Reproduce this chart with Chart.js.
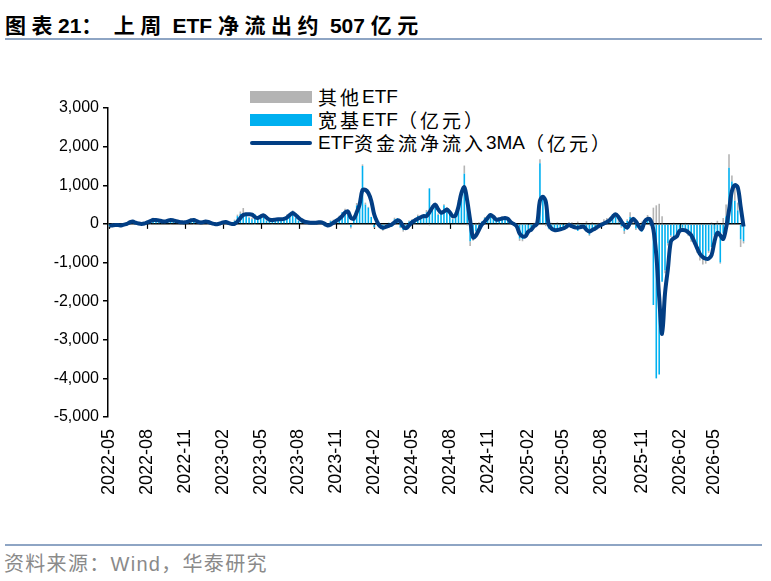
<!DOCTYPE html>
<html lang="zh-CN">
<head>
<meta charset="UTF-8">
<title>上周 ETF 净流出约 507 亿元</title>
<script src="https://cdn.jsdelivr.net/npm/chart.js"></script>
<style>
  body {
    margin: 0;
    width: 771px;
    height: 581px;
    position: relative;
    overflow: hidden;
    background: #fff;
    font-family: "Liberation Sans", "Noto Sans CJK SC", sans-serif;
  }
  .title {
    position: absolute; left: 5px; top: 9px;
    font-size: 21px; font-weight: bold; color: #000; white-space: pre;
  }
  .title .cj { letter-spacing: 5.5px; }
  .rule { position: absolute; left: 5px; width: 757px; background: #8EA5C4; }
  .legend { position: absolute; left: 250px; top: 85px; font-size: 19px; color: #000; }
  .legend .cj { letter-spacing: 3px; }
  .legend div { height: 23px; display: flex; align-items: center; white-space: pre; }
  .swatch { width: 62px; margin-right: 6px; }
  .src { position: absolute; left: 4px; top: 548px; font-size: 20px; color: #8a8a8a; letter-spacing: 1.3px; }
  #wrap { position: absolute; left: 0; top: 50px; }
</style>
</head>
<body>
<div class="title"><span class="cj">图表</span>21<span class="cj">：</span> <span class="cj">上周</span> ETF <span class="cj">净流出约</span> 507 <span class="cj">亿元</span></div>
<div class="rule" style="top:38px;height:2px"></div>

<div class="legend">
  <div><span class="swatch" style="height:12px;background:#B4B4B4"></span><span class="cj">其他</span>ETF</div>
  <div><span class="swatch" style="height:12px;background:#00B0F0"></span><span class="cj">宽基</span>ETF<span class="cj">（亿元）</span></div>
  <div><span class="swatch" style="height:4px;background:#023E84;border-radius:2px"></span>ETF<span class="cj">资金流净流入</span>3MA<span class="cj">（亿元）</span></div>
</div>

<div id="wrap"><canvas id="etfChart" width="771" height="480"></canvas></div>

<div class="rule" style="top:544px;height:1.5px"></div>
<div class="src">资料来源：Wind，华泰研究</div>

<script>
// 周度数据，从 2022-05-06 开始（亿元）
const tickLabels = ['2022-05', '2022-08', '2022-11', '2023-02', '2023-05', '2023-08', '2023-11',
  '2024-02', '2024-05', '2024-08', '2024-11', '2025-02', '2025-05', '2025-08', '2025-11',
  '2026-02', '2026-05'];

// 宽基ETF
const broadEtf = [
  -60, -20, -40, 10, -50, -30, 20, 60, 70, -10, 20, -20, 30,
  60, 90, 120, 60, 110, 30, 70, 90, 120, 60, 50, 30, 40,
  50, 80, 120, 90, 30, 20, 70, 60, 30, -10, -20, 20, 30,
  60, 20, -10, -30, 80, 200, 260, 230, 210, 160, 120, 250, 150,
  220, 200, 80, 90, 130, 100, 140, 110, 130, 200, 260, 320, 150,
  80, 40, 60, 20, 30, 50, -20, 60, 30, -60, -30, 70, 80,
  120, 180, 300, 350, 280, -80, 200, 480, 620, 1500, 500, 420, 180,
  -80, 30, -60, -150, -40, 30, -80, 120, 150, -90, -160, -60, 60,
  100, 130, 200, 150, 250, 300, 920, 380, 420, 230, 260, 480, 380,
  250, 120, 300, 560, 700, 1300, 650, -450, -380, -200, -100, 60, 150,
  180, 280, 160, 80, 140, 170, 110, 120, 20, -30, -100, -380, -400,
  -300, -150, -120, -30, 80, 1570, 650, 420, -120, -180, -150, -200, -100,
  -150, -50, 20, -100, -120, -180, -60, -80, -200, -280, -130, -150, -40,
  -60, 40, 30, 120, 250, 180, 40, -60, -180, 80, 180, -30, -120,
  -80, -200, 60, 150, -50, -2100, -4000, -3900, -1500, -1200, -500, -300, -350,
  -250, -150, -100, -200, -250, -400, -450, -650, -800, -850, -950, -700, -600,
  -300, -200, -1000, -250, 200, 1450, 1100, 600, 350, -400, -450
];

// 其他ETF
const otherEtf = [
  -20, 10, -10, -10, 20, -10, 10, 30, -20, 10, -10, 20, 10,
  20, -10, 40, 10, -20, 20, 10, 30, -10, 20, 10, -20, 10,
  10, 20, 30, -10, 20, 10, -20, 10, -10, -20, 10, -10, 20,
  -10, 20, 10, -20, 30, 40, 60, 180, -30, 20, 40, -10, 30,
  30, -20, 20, 10, -10, 40, -20, 30, 20, 40, -10, 30, 20,
  10, -20, 30, -10, -30, 20, -10, 10, -20, 10, -30, 20, 30,
  20, 30, -20, 40, 20, -40, 30, 60, 40, 40, 50, 20, -20,
  -20, 10, -40, -30, 20, -20, 10, 40, -30, -20, -40, 10, 30,
  20, -30, 40, 30, -20, 60, -40, 50, 70, 40, -20, 30, 50,
  40, 20, -30, 60, 80, 210, -40, -120, -60, 30, 40, -20, 30,
  30, -20, 50, 20, -30, 30, 40, -20, -30, 10, -30, -60, -50,
  -30, 20, -40, 30, 20, 100, 80, -60, -20, 30, -30, 40, -20,
  20, -30, 30, 40, -20, 60, -40, 20, 70, -30, 50, -20, 30,
  40, 80, 120, 60, -30, 50, 90, -40, -80, 40, 120, 60, -40,
  20, 60, 40, 80, 120, 420, 480, 520, 200, -80, -60, -40, 30,
  -30, 20, -40, 30, -60, -60, -80, -100, -150, -200, -80, -50, 40,
  -50, 80, -30, 150, 300, 350, 150, 380, 200, -200, -57
];

// ETF资金流净流入3MA
const ma3 = [
  -50, -40, -30, -30, -40, -20, 0, 40, 60, 30, 10, 0, 10,
  40, 70, 100, 100, 90, 70, 60, 80, 100, 90, 70, 50, 40,
  40, 60, 90, 100, 70, 40, 40, 60, 50, 20, 0, -10, 10,
  40, 50, 20, 0, 0, 60, 150, 230, 250, 250, 240, 180, 150,
  190, 220, 160, 110, 100, 110, 120, 120, 130, 160, 230, 280, 230,
  160, 100, 60, 40, 30, 30, 30, 40, 40, 0, -40, -20, 30,
  80, 130, 200, 290, 320, 160, 130, 300, 500, 880, 880, 800, 600,
  250, 60, -60, -100, -80, -50, -20, 40, 90, 60, -70, -110, -40,
  40, 90, 130, 170, 200, 200, 300, 420, 500, 380, 290, 320, 370,
  300, 200, 220, 450, 800, 950, 600, 100, -350, -300, -160, -20, 60,
  150, 230, 180, 110, 120, 140, 150, 130, 40, 0, -60, -250, -320,
  -320, -200, -150, -60, 0, 600, 700, 580, -20, -120, -160, -160, -140,
  -120, -80, -30, -60, -90, -100, -80, -70, -150, -200, -160, -120, -70,
  -30, 10, 50, 100, 180, 250, 180, 60, -40, -100, 30, 130, 60,
  -60, -140, 60, 130, 100, -150, -800, -1900, -2850, -1800, -1160, -460, -370,
  -330, -180, -160, -170, -220, -290, -450, -620, -780, -860, -900, -900, -810,
  -460, -230, -300, -390, -100, 350, 850, 1000, 950, 450, -70
];

// 周标签
const startDay = Date.UTC(2022, 4, 6);
const weeks = broadEtf.map((_, i) => new Date(startDay + i * 7 * 864e5).toISOString().slice(0, 10));
const tickIdx = tickLabels.map(m => weeks.findIndex(w => w.startsWith(m)));

// 零轴上的刻度线
const zeroTicks = {
  id: 'zeroTicks',
  beforeDatasetsDraw(chart) {
    const { ctx, scales: { x, y } } = chart;
    const y0 = y.getPixelForValue(0);
    ctx.save();
    ctx.strokeStyle = '#000';
    ctx.lineWidth = 1.2;
    x.ticks.forEach((t, i) => {
      const px = Math.round(x.getPixelForTick(i)) + 0.5;
      ctx.beginPath();
      ctx.moveTo(px, y0);
      ctx.lineTo(px, y0 + 5);
      ctx.stroke();
    });
    ctx.restore();
  }
};

const font = '"Liberation Sans", "Noto Sans CJK SC", sans-serif';

new Chart(document.getElementById('etfChart'), {
  data: {
    labels: weeks,
    datasets: [
      {
        type: 'line',
        label: 'ETF资金流净流入3MA（亿元）',
        data: ma3,
        stack: 'ma',
        borderColor: '#023E84',
        borderWidth: 4,
        pointRadius: 0,
        tension: 0.35,
        borderJoinStyle: 'round'
      },
      {
        type: 'bar',
        label: '宽基ETF（亿元）',
        data: broadEtf,
        stack: 'etf',
        backgroundColor: '#00B0F0',
        barPercentage: 0.55,
        categoryPercentage: 1.0
      },
      {
        type: 'bar',
        label: '其他ETF',
        data: otherEtf,
        stack: 'etf',
        backgroundColor: '#B4B4B4',
        barPercentage: 0.55,
        categoryPercentage: 1.0
      }
    ]
  },
  options: {
    responsive: false,
    animation: false,
    layout: { padding: { top: 58, right: 26, bottom: 0, left: 0 } },
    plugins: { legend: { display: false }, tooltip: { enabled: false } },
    scales: {
      x: {
        type: 'category',
        offset: true,
        stacked: true,
        grid: { display: false },
        border: { display: false },
        afterBuildTicks(scale) {
          scale.ticks = tickIdx.map(i => ({ value: i }));
        },
        afterFit(scale) { scale.height = 113; },
        ticks: {
          autoSkip: false,
          minRotation: 90,
          maxRotation: 90,
          padding: 4,
          color: '#000',
          font: { family: font, size: 18 },
          callback: v => weeks[v].slice(0, 7)
        }
      },
      y: {
        stacked: true,
        min: -5000,
        max: 3000,
        afterFit(scale) { scale.width = 108; },
        border: { color: '#000', width: 1.5 },
        grid: {
          color: c => (c.tick && c.tick.value === 0 ? '#000' : 'rgba(0,0,0,0)'),
          lineWidth: 1.5,
          tickLength: 5,
          tickColor: '#000'
        },
        ticks: {
          stepSize: 1000,
          padding: 4,
          color: '#000',
          font: { family: font, size: 16 },
          callback: v => v.toLocaleString('en-US')
        }
      }
    }
  },
  plugins: [zeroTicks]
});
</script>
</body>
</html>
